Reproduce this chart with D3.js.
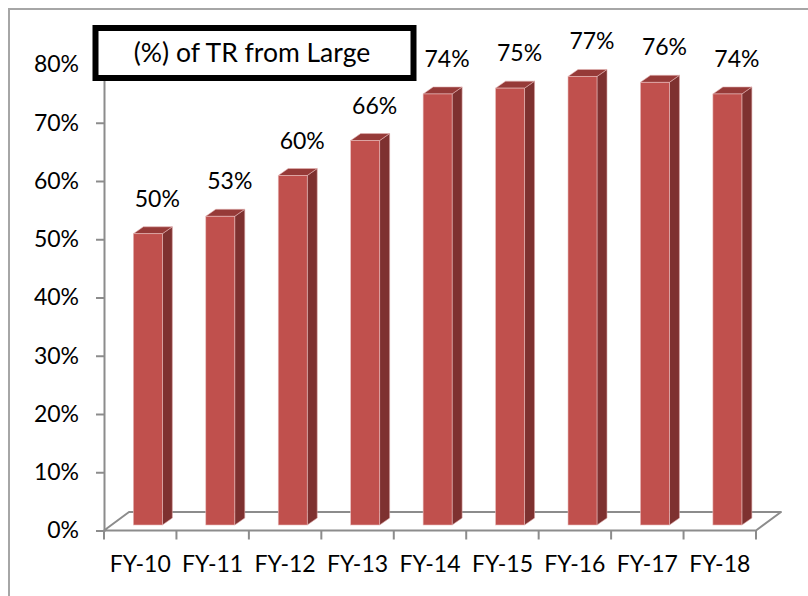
<!DOCTYPE html>
<html>
<head>
<meta charset="utf-8">
<script src="https://cdn.jsdelivr.net/npm/d3@7"></script>
<style>
  html, body { margin: 0; padding: 0; background: #fff; }
  svg { display: block; }
  text { font-family: Lato, "Open Sans", sans-serif; fill: #000; }
</style>
</head>
<body>
<svg id="chart" width="808" height="596"></svg>
<script>
// Share of total revenue from large accounts, by fiscal year
const categories = ["FY-10", "FY-11", "FY-12", "FY-13", "FY-14", "FY-15", "FY-16", "FY-17", "FY-18"];
const values = [0.50, 0.53, 0.60, 0.66, 0.74, 0.75, 0.77, 0.76, 0.74];
const valueLabels = ["50%", "53%", "60%", "66%", "74%", "75%", "77%", "76%", "74%"];
const yTicks = [0, 0.1, 0.2, 0.3, 0.4, 0.5, 0.6, 0.7, 0.8];
const chartTitle = "(%) of TR from Large";

const svg = d3.select("#chart");
const fontSize = 23;

// outer frame (left and top edges visible)
svg.append("path")
  .attr("d", "M9,596 L9,9 L808,9")
  .attr("fill", "none")
  .attr("stroke", "#a6a6a6")
  .attr("stroke-width", 2);

const x = d3.scaleBand().domain(categories).range([104, 756]).padding(0);
const y = d3.scaleLinear().domain([0, 0.8]).range([530.5, 64.5]);

// floor depth of the 3D plot area
const floorDx = 25, floorDy = -18.5;
// bars sit a little behind the front plane
const barShiftY = -5.5;
const barDepthX = 10, barDepthY = -7;

const axisColor = "#8c8c8c";

// floor outline
const y0 = y(0);
const xl = x.range()[0], xr = x.range()[1];
svg.append("path")
  .attr("d", `M${xl},${y0} L${xr},${y0} L${xr + floorDx},${y0 + floorDy} L${xl + floorDx},${y0 + floorDy} Z`)
  .attr("fill", "none")
  .attr("stroke", axisColor)
  .attr("stroke-width", 2)
  .attr("stroke-linejoin", "round");

// value axis
const yAxis = d3.axisLeft(y)
  .tickValues(yTicks)
  .tickFormat(d3.format(".0%"))
  .tickSize(8)
  .tickPadding(17);
const gy = svg.append("g").attr("transform", `translate(${xl},0)`).call(yAxis);
gy.select(".domain").attr("stroke", axisColor).attr("stroke-width", 2);
gy.selectAll(".tick line").attr("stroke", axisColor).attr("stroke-width", 2);
gy.selectAll(".tick text")
  .attr("font-size", fontSize)
  .attr("font-family", "Lato, 'Open Sans', sans-serif")
  .attr("fill", "#000");

// category axis: ticks on band boundaries
const gx = svg.append("g");
const boundaries = categories.map(c => x(c)).concat([xr]);
gx.selectAll("line.tick")
  .data(boundaries)
  .join("line")
  .attr("x1", d => d).attr("x2", d => d)
  .attr("y1", y0).attr("y2", y0 + 9)
  .attr("stroke", axisColor)
  .attr("stroke-width", 2);
gx.selectAll("text.cat")
  .data(categories)
  .join("text")
  .attr("class", "cat")
  .attr("x", d => x(d) + x.bandwidth() / 2)
  .attr("y", 572)
  .attr("text-anchor", "middle")
  .attr("font-size", fontSize)
  .text(d => d);

// 3D columns
const bw = x.bandwidth();
const barW = bw * 0.4;
const bars = svg.append("g")
  .selectAll("g.bar")
  .data(categories.map((c, i) => ({ c, v: values[i], label: valueLabels[i] })))
  .join("g")
  .attr("class", "bar");

const fx = d => x(d.c) + bw * 0.405;
const base = y(0) + barShiftY;
const topY = d => y(d.v) + barShiftY;

// side face
bars.append("path")
  .attr("d", d => {
    const x1 = fx(d) + barW;
    return `M${x1},${base} L${x1},${topY(d)} L${x1 + barDepthX},${topY(d) + barDepthY} L${x1 + barDepthX},${base + barDepthY} Z`;
  })
  .attr("fill", "#7e3130")
  .attr("stroke", "#d9a3a2")
  .attr("stroke-width", 0.6);

// top face
bars.append("path")
  .attr("d", d => {
    const x0 = fx(d), x1 = fx(d) + barW, t = topY(d);
    return `M${x0},${t} L${x1},${t} L${x1 + barDepthX},${t + barDepthY} L${x0 + barDepthX},${t + barDepthY} Z`;
  })
  .attr("fill", "#963a38")
  .attr("stroke", "#e2b4b3")
  .attr("stroke-width", 0.6);

// front face
bars.append("rect")
  .attr("x", d => fx(d))
  .attr("y", d => topY(d))
  .attr("width", barW)
  .attr("height", d => base - topY(d))
  .attr("fill", "#c0504d")
  .attr("stroke", "#e8bcbb")
  .attr("stroke-width", 0.6);

// value labels
bars.append("text")
  .attr("x", d => fx(d) + barW / 2 + 9.5)
  .attr("y", d => topY(d) - 27)
  .attr("text-anchor", "middle")
  .attr("font-size", fontSize)
  .text(d => d.label);

// title box
svg.append("rect")
  .attr("x", 95.5).attr("y", 28)
  .attr("width", 318).attr("height", 50)
  .attr("fill", "#fff")
  .attr("stroke", "#000")
  .attr("stroke-width", 6);
svg.append("text")
  .attr("x", 252)
  .attr("y", 62)
  .attr("text-anchor", "middle")
  .attr("font-size", 26.5)
  .text(chartTitle);
</script>
</body>
</html>
